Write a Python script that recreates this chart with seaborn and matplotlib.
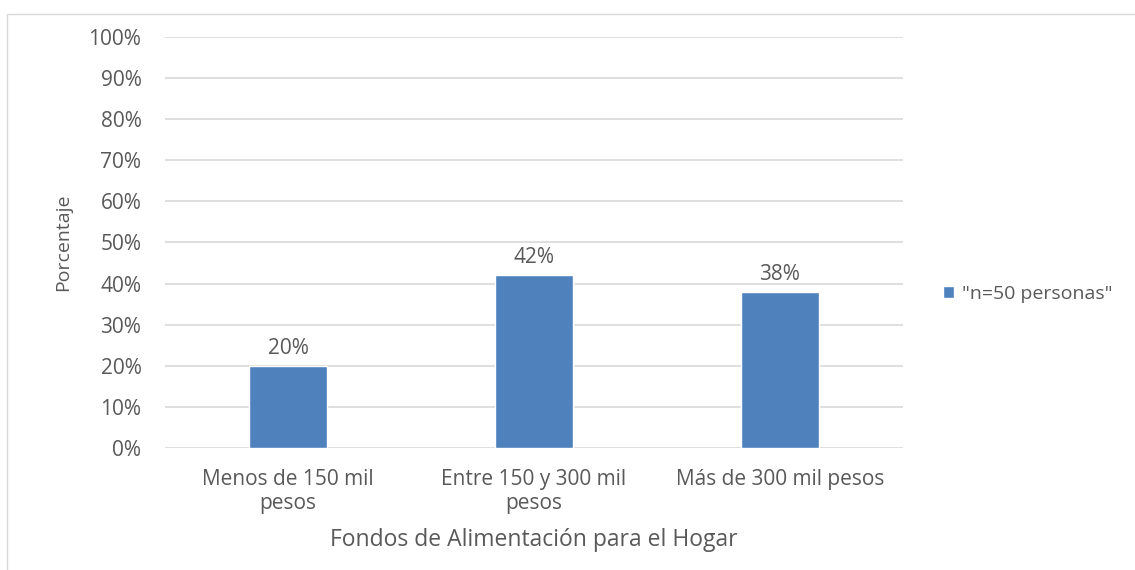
import pandas as pd, numpy as np, matplotlib
matplotlib.use('Agg')
import matplotlib.pyplot as plt
import seaborn as sns
from matplotlib.patches import Rectangle

categorias = ['Menos de 150 mil\npesos', 'Entre 150 y 300 mil\npesos', 'Más de 300 mil pesos']
porcentaje = [20, 42, 38]
serie = '"n=50 personas"'
yticks = list(range(0, 101, 10))

sns.set_style('white')
plt.rcParams['font.family'] = ['Open Sans', 'DejaVu Sans']
gris = '#595959'
fs = 15

df = pd.DataFrame({'cat': categorias, 'pct': porcentaje})
fig = plt.figure(figsize=(11.35, 5.7), dpi=100)
fig.patches.append(Rectangle((7/1135, -0.05), 1.1, (570-14)/570 + 0.05, transform=fig.transFigure,
                             fill=False, edgecolor='#d9d9d9', lw=1))
ax = fig.add_axes([165/1135, (570-448)/570, (903-165)/1135, (448-37)/570])
sns.barplot(data=df, x='cat', y='pct', color='#4f81bd', width=0.315, saturation=1,
            label=serie, ax=ax, zorder=3)
ax.set_ylim(0, 100)
ax.set_xlim(-0.5, 2.5)
ax.set_yticks(yticks)
ax.set_yticklabels([f'{v}%' for v in yticks])
ax.yaxis.grid(True, color='#d9d9d9', lw=1.2, zorder=0)
ax.set_axisbelow(True)
for s in ax.spines.values():
    s.set_visible(False)
ax.tick_params(axis='y', length=0, pad=17, labelsize=fs, labelcolor=gris)
ax.tick_params(axis='x', length=0, pad=15, labelsize=fs, labelcolor=gris)
ax.bar_label(ax.containers[0], labels=[f'{v}%' for v in porcentaje], padding=5,
             fontsize=fs, color=gris)
ax.set_ylabel('Porcentaje', fontsize=14, color=gris, labelpad=12)
ax.set_xlabel('Fondos de Alimentación para el Hogar', fontsize=16.5, color=gris, labelpad=10)
ax.legend(loc='center left', bbox_to_anchor=(1.03, 0.375), frameon=False, fontsize=14,
          labelcolor=gris, handlelength=0.6, handleheight=0.6, handletextpad=0.4)
fig.savefig('out.png', dpi=100)
